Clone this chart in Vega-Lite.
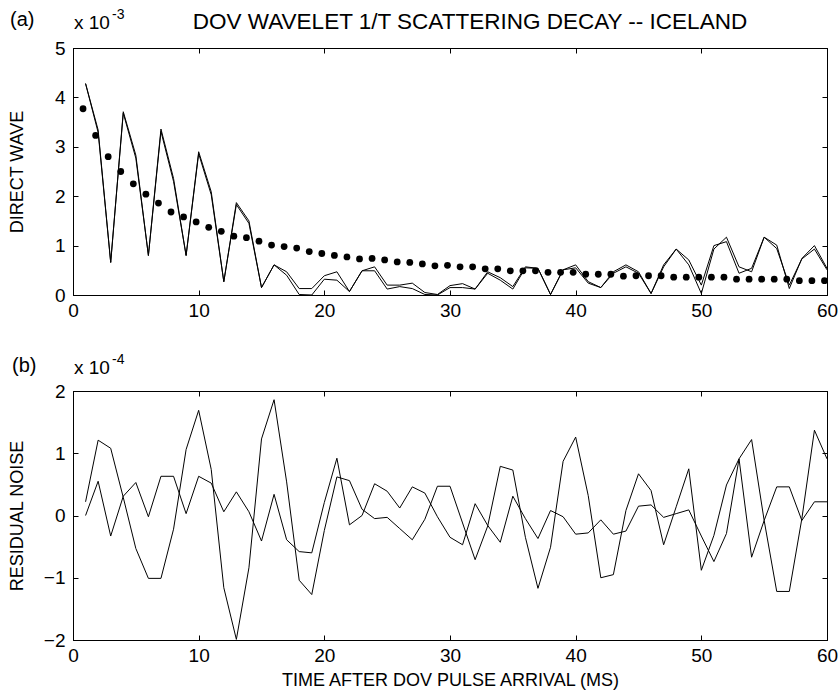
{
  "$schema": "https://vega.github.io/schema/vega-lite/v6.json",
  "background": "white",
  "padding": {"top": 7, "left": 7, "right": 5, "bottom": 5},
  "config": {
    "font": "Liberation Sans",
    "view": {"stroke": "black", "strokeWidth": 1},
    "axis": {
      "grid": false, "domainColor": "black", "domainWidth": 1, "tickColor": "black", "tickWidth": 1,
      "tickSize": -5, "labelPadding": 11, "labelColor": "black", "titleColor": "black",
      "labelFont": "Liberation Sans", "titleFont": "Liberation Sans", "labelFontSize": 19,
      "titleFontSize": 18, "titleFontWeight": "normal", "labelFlush": false, "labelOverlap": false
    },
    "concat": {"spacing": 31}
  },
  "datasets": {
    "direct": [
      {"t":1,"a":4.28,"b":4.28},{"t":2,"a":3.34,"b":3.29},{"t":3,"a":0.66,"b":0.66},{"t":4,"a":3.71,"b":3.68},{"t":5,"a":2.83,"b":2.77},
      {"t":6,"a":0.80,"b":0.80},{"t":7,"a":3.36,"b":3.31},{"t":8,"a":2.36,"b":2.30},{"t":9,"a":0.80,"b":0.80},{"t":10,"a":2.90,"b":2.86},
      {"t":11,"a":2.09,"b":2.03},{"t":12,"a":0.27,"b":0.27},{"t":13,"a":1.87,"b":1.83},{"t":14,"a":1.50,"b":1.45},{"t":15,"a":0.15,"b":0.15},
      {"t":16,"a":0.61,"b":0.61},{"t":17,"a":0.47,"b":0.40},{"t":18,"a":0.13,"b":0.01},{"t":19,"a":0.13,"b":0.00},{"t":20,"a":0.39,"b":0.32},
      {"t":21,"a":0.47,"b":0.30},{"t":22,"a":0.07,"b":0.07},{"t":23,"a":0.49,"b":0.49},{"t":24,"a":0.57,"b":0.49},{"t":25,"a":0.20,"b":0.12},
      {"t":26,"a":0.20,"b":0.17},{"t":27,"a":0.24,"b":0.13},{"t":28,"a":0.05,"b":0.01},{"t":29,"a":0.01,"b":0.00},{"t":30,"a":0.19,"b":0.15},
      {"t":31,"a":0.23,"b":0.15},{"t":32,"a":0.12,"b":0.12},{"t":33,"a":0.47,"b":0.44},{"t":34,"a":0.35,"b":0.30},{"t":35,"a":0.17,"b":0.12},
      {"t":36,"a":0.57,"b":0.55},{"t":37,"a":0.54,"b":0.54},{"t":38,"a":0.01,"b":0.01},{"t":39,"a":0.51,"b":0.51},{"t":40,"a":0.61,"b":0.55},
      {"t":41,"a":0.27,"b":0.24},{"t":42,"a":0.15,"b":0.15},{"t":43,"a":0.47,"b":0.44},{"t":44,"a":0.61,"b":0.57},{"t":45,"a":0.47,"b":0.44},
      {"t":46,"a":0.03,"b":0.03},{"t":47,"a":0.57,"b":0.61},{"t":48,"a":0.93,"b":0.93},{"t":49,"a":0.61,"b":0.71},{"t":50,"a":0.03,"b":0.20},
      {"t":51,"a":0.93,"b":1.00},{"t":52,"a":1.17,"b":1.08},{"t":53,"a":0.57,"b":0.44},{"t":54,"a":0.47,"b":0.54},{"t":55,"a":1.17,"b":1.17},
      {"t":56,"a":1.01,"b":0.94},{"t":57,"a":0.13,"b":0.20},{"t":58,"a":0.74,"b":0.73},{"t":59,"a":1.00,"b":0.93},{"t":60,"a":0.54,"b":0.51}
    ],
    "decay": [
      {"t":0.8,"v":3.77},{"t":1.8,"v":3.23},{"t":2.8,"v":2.80},{"t":3.8,"v":2.50},{"t":4.8,"v":2.25},
      {"t":5.8,"v":2.04},{"t":6.8,"v":1.86},{"t":7.8,"v":1.68},{"t":8.8,"v":1.58},{"t":9.8,"v":1.48},
      {"t":10.8,"v":1.37},{"t":11.8,"v":1.29},{"t":12.8,"v":1.19},{"t":13.8,"v":1.16},{"t":14.8,"v":1.09},
      {"t":15.8,"v":1.01},{"t":16.8,"v":0.98},{"t":17.8,"v":0.95},{"t":18.8,"v":0.88},{"t":19.8,"v":0.84},
      {"t":20.8,"v":0.80},{"t":21.8,"v":0.77},{"t":22.8,"v":0.73},{"t":23.8,"v":0.74},{"t":24.8,"v":0.71},
      {"t":25.8,"v":0.67},{"t":26.8,"v":0.66},{"t":27.8,"v":0.63},{"t":28.8,"v":0.59},{"t":29.8,"v":0.60},
      {"t":30.8,"v":0.57},{"t":31.8,"v":0.57},{"t":32.8,"v":0.53},{"t":33.8,"v":0.53},{"t":34.8,"v":0.49},
      {"t":35.8,"v":0.49},{"t":36.8,"v":0.49},{"t":37.8,"v":0.46},{"t":38.8,"v":0.46},{"t":39.8,"v":0.46},
      {"t":40.8,"v":0.42},{"t":41.8,"v":0.42},{"t":42.8,"v":0.42},{"t":43.8,"v":0.38},{"t":44.8,"v":0.39},
      {"t":45.8,"v":0.39},{"t":46.8,"v":0.39},{"t":47.8,"v":0.36},{"t":48.8,"v":0.36},{"t":49.8,"v":0.36},
      {"t":50.8,"v":0.36},{"t":51.8,"v":0.36},{"t":52.8,"v":0.32},{"t":53.8,"v":0.32},{"t":54.8,"v":0.32},
      {"t":55.8,"v":0.32},{"t":56.8,"v":0.32},{"t":57.8,"v":0.29},{"t":58.8,"v":0.29},{"t":59.8,"v":0.29}
    ],
    "noise": [
      {"t":1,"a":0.22,"b":0.00},{"t":2,"a":1.21,"b":0.55},{"t":3,"a":1.08,"b":-0.33},{"t":4,"a":0.29,"b":0.31},{"t":5,"a":-0.53,"b":0.53},
      {"t":6,"a":-1.01,"b":-0.02},{"t":7,"a":-1.01,"b":0.63},{"t":8,"a":-0.22,"b":0.63},{"t":9,"a":1.06,"b":0.03},{"t":10,"a":1.69,"b":0.63},
      {"t":11,"a":0.74,"b":0.52},{"t":12,"a":-1.16,"b":0.06},{"t":13,"a":-1.99,"b":0.38},{"t":14,"a":-0.84,"b":0.06},{"t":15,"a":1.23,"b":-0.41},
      {"t":16,"a":1.86,"b":0.34},{"t":17,"a":0.54,"b":-0.39},{"t":18,"a":-1.04,"b":-0.58},{"t":19,"a":-1.27,"b":-0.60},{"t":20,"a":-0.24,"b":0.21},
      {"t":21,"a":0.62,"b":0.92},{"t":22,"a":0.56,"b":-0.15},{"t":23,"a":0.10,"b":0.00},{"t":24,"a":-0.05,"b":0.51},{"t":25,"a":-0.03,"b":0.39},
      {"t":26,"a":-0.21,"b":0.12},{"t":27,"a":-0.39,"b":0.46},{"t":28,"a":-0.06,"b":0.36},{"t":29,"a":0.47,"b":-0.02},{"t":30,"a":0.47,"b":-0.35},
      {"t":31,"a":-0.12,"b":-0.47},{"t":32,"a":-0.71,"b":0.19},{"t":33,"a":-0.17,"b":-0.16},{"t":34,"a":0.79,"b":-0.43},{"t":35,"a":0.73,"b":0.31},
      {"t":36,"a":-0.35,"b":-0.05},{"t":37,"a":-1.17,"b":-0.37},{"t":38,"a":-0.51,"b":0.08},{"t":39,"a":0.87,"b":-0.02},{"t":40,"a":1.26,"b":-0.30},
      {"t":41,"a":0.32,"b":-0.28},{"t":42,"a":-1.00,"b":-0.07},{"t":43,"a":-0.95,"b":-0.30},{"t":44,"a":0.08,"b":-0.25},{"t":45,"a":0.67,"b":0.15},
      {"t":46,"a":0.40,"b":0.17},{"t":47,"a":-0.47,"b":-0.03},{"t":48,"a":0.14,"b":0.03},{"t":49,"a":0.75,"b":0.09},{"t":50,"a":-0.88,"b":-0.33},
      {"t":51,"a":-0.32,"b":-0.74},{"t":52,"a":0.49,"b":-0.29},{"t":53,"a":0.91,"b":0.91},{"t":54,"a":1.22,"b":-0.67},{"t":55,"a":-0.08,"b":-0.08},
      {"t":56,"a":-1.22,"b":0.46},{"t":57,"a":-1.22,"b":0.46},{"t":58,"a":-0.05,"b":-0.08},{"t":59,"a":1.37,"b":0.22},{"t":60,"a":0.91,"b":0.22}
    ]
  },
  "vconcat": [
    {
      "width": 754,
      "height": 247,
      "resolve": {"axis": {"x": "independent", "y": "independent"}},
      "layer": [
        {
          "data": {"name": "direct"},
          "mark": {"type": "line", "color": "black", "strokeWidth": 1},
          "encoding": {
            "x": {"field": "t", "type": "quantitative", "scale": {"domain": [0, 60], "nice": false},
                  "axis": {"orient": "bottom", "values": [0,10,20,30,40,50,60], "title": null}},
            "y": {"field": "a", "type": "quantitative", "scale": {"domain": [0, 5], "nice": false},
                  "axis": {"orient": "left", "values": [0,1,2,3,4,5], "title": "DIRECT WAVE", "labelPadding": 13, "titleX": -47}}
          }
        },
        {
          "data": {"name": "direct"},
          "mark": {"type": "line", "color": "black", "strokeWidth": 1},
          "encoding": {
            "x": {"field": "t", "type": "quantitative", "scale": {"domain": [0, 60], "nice": false}, "axis": null},
            "y": {"field": "b", "type": "quantitative", "scale": {"domain": [0, 5], "nice": false}, "axis": null}
          }
        },
        {
          "data": {"name": "decay"},
          "mark": {"type": "circle", "color": "black", "size": 46, "opacity": 1},
          "encoding": {
            "x": {"field": "t", "type": "quantitative", "scale": {"domain": [0, 60], "nice": false},
                  "axis": {"orient": "top", "values": [0,10,20,30,40,50,60], "labels": false, "title": null}},
            "y": {"field": "v", "type": "quantitative", "scale": {"domain": [0, 5], "nice": false},
                  "axis": {"orient": "right", "values": [0,1,2,3,4,5], "labels": false, "title": null}}
          }
        },
        {
          "data": {"values": [{}]},
          "mark": {"type": "text", "text": "DOV WAVELET 1/T SCATTERING DECAY -- ICELAND", "align": "center", "baseline": "alphabetic", "dx": 20, "dy": -19, "fontSize": 22.5, "color": "black"},
          "encoding": {"x": {"datum": 30, "type": "quantitative", "axis": null}, "y": {"datum": 5, "type": "quantitative", "axis": null}}
        },
        {
          "data": {"values": [{}]},
          "mark": {"type": "text", "text": "(a)", "align": "left", "baseline": "alphabetic", "dx": -63, "dy": -22, "fontSize": 20, "color": "black"},
          "encoding": {"x": {"datum": 0, "type": "quantitative", "axis": null}, "y": {"datum": 5, "type": "quantitative", "axis": null}}
        },
        {
          "data": {"values": [{}]},
          "mark": {"type": "text", "text": "x 10", "align": "left", "baseline": "alphabetic", "dx": 1, "dy": -19, "fontSize": 19, "color": "black"},
          "encoding": {"x": {"datum": 0, "type": "quantitative", "axis": null}, "y": {"datum": 5, "type": "quantitative", "axis": null}}
        },
        {
          "data": {"values": [{}]},
          "mark": {"type": "text", "text": "-3", "align": "left", "baseline": "alphabetic", "dx": 39, "dy": -29, "fontSize": 14, "color": "black"},
          "encoding": {"x": {"datum": 0, "type": "quantitative", "axis": null}, "y": {"datum": 5, "type": "quantitative", "axis": null}}
        }
      ]
    },
    {
      "width": 754,
      "height": 249,
      "resolve": {"axis": {"x": "independent", "y": "independent"}},
      "layer": [
        {
          "data": {"name": "noise"},
          "mark": {"type": "line", "color": "black", "strokeWidth": 1},
          "encoding": {
            "x": {"field": "t", "type": "quantitative", "scale": {"domain": [0, 60], "nice": false},
                  "axis": {"orient": "bottom", "values": [0,10,20,30,40,50,60], "title": "TIME AFTER DOV PULSE ARRIVAL (MS)", "titlePadding": 6}},
            "y": {"field": "a", "type": "quantitative", "scale": {"domain": [-2, 2], "nice": false},
                  "axis": {"orient": "left", "values": [-2,-1,0,1,2], "title": "RESIDUAL NOISE", "labelPadding": 13, "titleX": -47}}
          }
        },
        {
          "data": {"name": "noise"},
          "mark": {"type": "line", "color": "black", "strokeWidth": 1},
          "encoding": {
            "x": {"field": "t", "type": "quantitative", "scale": {"domain": [0, 60], "nice": false},
                  "axis": {"orient": "top", "values": [0,10,20,30,40,50,60], "labels": false, "title": null}},
            "y": {"field": "b", "type": "quantitative", "scale": {"domain": [-2, 2], "nice": false},
                  "axis": {"orient": "right", "values": [-2,-1,0,1,2], "labels": false, "title": null}}
          }
        },
        {
          "data": {"values": [{}]},
          "mark": {"type": "text", "text": "(b)", "align": "left", "baseline": "alphabetic", "dx": -61, "dy": -19, "fontSize": 20, "color": "black"},
          "encoding": {"x": {"datum": 0, "type": "quantitative", "axis": null}, "y": {"datum": 2, "type": "quantitative", "axis": null}}
        },
        {
          "data": {"values": [{}]},
          "mark": {"type": "text", "text": "x 10", "align": "left", "baseline": "alphabetic", "dx": 1, "dy": -17, "fontSize": 19, "color": "black"},
          "encoding": {"x": {"datum": 0, "type": "quantitative", "axis": null}, "y": {"datum": 2, "type": "quantitative", "axis": null}}
        },
        {
          "data": {"values": [{}]},
          "mark": {"type": "text", "text": "-4", "align": "left", "baseline": "alphabetic", "dx": 39, "dy": -27, "fontSize": 14, "color": "black"},
          "encoding": {"x": {"datum": 0, "type": "quantitative", "axis": null}, "y": {"datum": 2, "type": "quantitative", "axis": null}}
        }
      ]
    }
  ]
}
